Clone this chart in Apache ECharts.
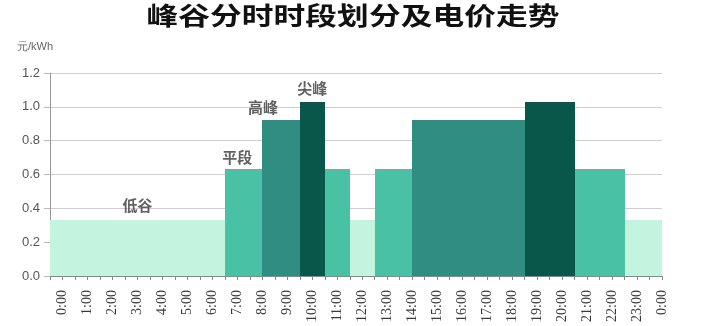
<!DOCTYPE html>
<html>
<head>
<meta charset="utf-8">
<script src="https://cdn.jsdelivr.net/npm/echarts@6/dist/echarts.min.js"></script>
<style>html,body{margin:0;padding:0;background:#fff;}#c{width:706px;height:326px;}</style>
</head>
<body>
<div id="c"></div>
<script>
const titleText = '峰谷分时时段划分及电价走势';
const unitText = '元/kWh';
const tickLabels = ['0:00','1:00','2:00','3:00','4:00','5:00','6:00','7:00','8:00','9:00','10:00','11:00','12:00','13:00','14:00','15:00','16:00','17:00','18:00','19:00','20:00','21:00','22:00','23:00','0:00'];
const periodNames = {low:'低谷', flat:'平段', high:'高峰', peak:'尖峰'};
const periodColors = {low:'#c3f4df', flat:'#48c1a4', high:'#308d82', peak:'#09564a'};
// segments measured in half-hour slots on a 49-slot axis
const segStart  = [0, 14, 17, 20, 22, 24, 26, 29, 38, 42, 46];
const segEnd    = [14, 17, 20, 22, 24, 26, 29, 38, 42, 46, 49];
const segPrice  = [0.33, 0.63, 0.92, 1.03, 0.63, 0.33, 0.63, 0.92, 1.03, 0.63, 0.33];
const segPeriod = ['low','flat','high','peak','flat','low','flat','high','peak','flat','low'];
const slotCount = 49;
// annotation labels
const annotX = [7.0, 15.0, 17.05, 21.0];
const annotY = [0.42, 0.70, 1.00, 1.11];
const annotPeriod = ['low', 'flat', 'high', 'peak'];

const chart = echarts.init(document.getElementById('c'));
chart.setOption({
  animation: false,
  backgroundColor: '#ffffff',
  graphic: [{
    type: 'text', x: 353, y: 3, scaleX: 1.27,
    style: { text: titleText, font: 'bold 25px "Noto Sans CJK SC"', fill: '#111', textAlign: 'center', textVerticalAlign: 'top' }
  }],
  grid: { left: 50, right: 44, top: 73, bottom: 50 },
  xAxis: {
    type: 'value', min: 0, max: slotCount, interval: 1,
    axisLine: { show: true, onZero: true, lineStyle: { color: '#888', width: 1 } },
    axisTick: { show: true, length: 4, lineStyle: { color: '#888' } },
    splitLine: { show: false },
    axisLabel: {
      rotate: 90, margin: 14, fontSize: 14, color: '#3a3a3a', fontFamily: 'Liberation Serif',
      showMinLabel: true, showMaxLabel: true,
      formatter: v => (v % 2 === 1 ? tickLabels[(v - 1) / 2] : '')
    }
  },
  yAxis: {
    type: 'value', min: 0, max: 1.2, interval: 0.2,
    name: unitText, nameLocation: 'end', nameGap: 26,
    nameTextStyle: { align: 'right', verticalAlign: 'middle', color: '#666', fontSize: 11, padding: [0, -3, 0, 0] },
    axisLine: { show: true, lineStyle: { color: '#999' } },
    axisTick: { show: true, length: 6, lineStyle: { color: '#bbb' } },
    axisLabel: { margin: 10, fontSize: 13, color: '#555', formatter: v => v.toFixed(1) },
    splitLine: { lineStyle: { color: '#cfcfcf', width: 1 } }
  },
  series: [{
    type: 'custom',
    data: segStart.map((s, i) => [s, segEnd[i], segPrice[i]]),
    encode: { x: [0, 1], y: 2 },
    renderItem: (params, api) => {
      const p0 = api.coord([api.value(0), api.value(2)]);
      const p1 = api.coord([api.value(1), 0]);
      const x0 = Math.round(p0[0]), x1 = Math.round(p1[0]);
      const y0 = Math.round(p0[1]), y1 = p1[1];
      return {
        type: 'rect',
        shape: { x: x0, y: y0, width: x1 - x0, height: y1 - y0 },
        style: { fill: periodColors[segPeriod[params.dataIndex]] }
      };
    },
    z: 2
  }, {
    type: 'scatter', symbolSize: 0, silent: true, z: 5,
    data: annotX.map((x, i) => ({ name: periodNames[annotPeriod[i]], value: [x, annotY[i]] })),
    label: { show: true, position: 'inside', formatter: p => p.name, fontSize: 15, fontWeight: 'bold', color: '#3a3a3a', fontFamily: 'Noto Sans CJK SC' }
  }]
});
</script>
</body>
</html>
